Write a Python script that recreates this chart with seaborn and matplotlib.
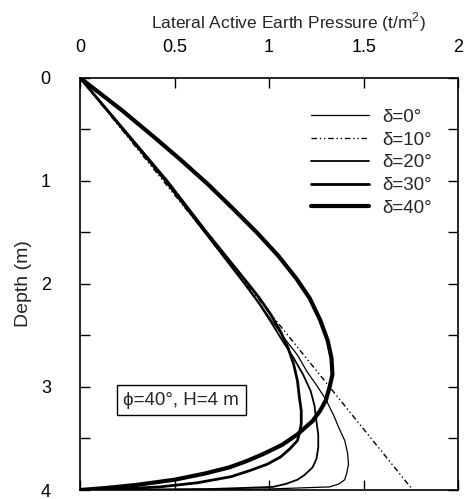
import matplotlib
matplotlib.use("Agg")
import matplotlib.pyplot as plt
import seaborn as sns
import pandas as pd

# ---- data (depth in m, pressure in t/m^2) ----
depth_d0 = [0, 0.5, 1.0, 1.5, 2.0, 2.2, 2.4, 2.55, 2.69, 2.85, 2.98, 3.12, 3.27, 3.4, 3.52,
            3.64, 3.75, 3.84, 3.90, 3.94, 3.97, 3.99, 4.0]
press_d0 = [0, 0.225, 0.45, 0.66, 0.875, 0.955, 1.03, 1.09, 1.15, 1.20, 1.25, 1.30, 1.34, 1.37, 1.40,
            1.415, 1.42, 1.41, 1.40, 1.37, 1.32, 1.0, 0]

depth_d10 = [0, 4.0]
press_d10 = [0, 1.76]

depth_d20 = [0, 0.5, 1.0, 1.5, 2.0, 2.2, 2.4, 2.55, 2.72, 2.88, 3.04, 3.18, 3.33, 3.46, 3.59,
             3.7, 3.78, 3.85, 3.90, 3.94, 3.97, 3.99, 4.0]
press_d20 = [0, 0.225, 0.45, 0.66, 0.87, 0.95, 1.02, 1.07, 1.13, 1.18, 1.22, 1.24, 1.25, 1.26, 1.26,
             1.25, 1.23, 1.19, 1.15, 1.09, 1.02, 0.7, 0]

depth_d30 = [0, 0.5, 1.0, 1.5, 2.0, 2.14, 2.3, 2.46, 2.62, 2.78, 2.94, 3.10, 3.23, 3.36, 3.45,
             3.52, 3.60, 3.68, 3.75, 3.81, 3.87, 3.93, 3.97, 3.99, 4.0]
press_d30 = [0, 0.23, 0.46, 0.67, 0.89, 0.95, 1.01, 1.06, 1.10, 1.13, 1.15, 1.16, 1.17, 1.17, 1.16,
             1.15, 1.11, 1.06, 0.99, 0.90, 0.80, 0.62, 0.42, 0.2, 0]

depth_d40 = [0, 0.32, 0.58, 0.80, 1.03, 1.28, 1.51, 1.73, 1.95, 2.14, 2.35, 2.55, 2.72, 2.88,
             3.0, 3.13, 3.23, 3.33, 3.46, 3.56, 3.65, 3.72, 3.78, 3.84, 3.90, 3.95, 3.98, 4.0]
press_d40 = [0, 0.225, 0.395, 0.535, 0.675, 0.815, 0.94, 1.05, 1.145, 1.215, 1.27, 1.31, 1.33, 1.335,
             1.32, 1.30, 1.27, 1.23, 1.15, 1.07, 0.97, 0.88, 0.79, 0.66, 0.50, 0.30, 0.14, 0]

labels = ["δ=0°", "δ=10°", "δ=20°", "δ=30°", "δ=40°"]
x_ticks = [0, 0.5, 1, 1.5, 2]
x_ticklabels = ["0", "0.5", "1", "1.5", "2"]
y_ticks = [0, 1, 2, 3, 4]
annotation = "ϕ=40°, H=4 m"

sns.set_style("white")
plt.rcParams["font.family"] = ["Liberation Sans", "DejaVu Sans"]
plt.rcParams["mathtext.fontset"] = "custom"
plt.rcParams["mathtext.rm"] = "Liberation Sans"
plt.rcParams["lines.solid_joinstyle"] = "round"

fig = plt.figure(figsize=(4.68, 4.99), dpi=100)
ax = fig.add_axes([0.171, 0.018, 0.808, 0.826])

series = [
    (depth_d0, press_d0, dict(lw=0.9, ls="-")),
    (depth_d10, press_d10, dict(lw=1.0, ls=(0, (4, 2, 1, 2, 1, 2)))),
    (depth_d20, press_d20, dict(lw=1.3, ls="-")),
    (depth_d30, press_d30, dict(lw=2.0, ls="-")),
    (depth_d40, press_d40, dict(lw=3.0, ls="-")),
]
for (d, p, st), lab in zip(series, labels):
    df = pd.DataFrame({"depth": d, "pressure": p})
    sns.lineplot(data=df, x="pressure", y="depth", orient="y", estimator=None,
                 sort=True, color="black", label=lab, ax=ax, **st)

ax.set_xlim(0, 2)
ax.set_ylim(4, 0)
ax.xaxis.tick_top()
ax.xaxis.set_label_position("top")
ax.set_xticks(x_ticks)
ax.set_xticklabels(x_ticklabels)
ax.set_yticks(y_ticks)
ax.set_yticks([0.5, 1.5, 2.5, 3.5], minor=True)
ax.tick_params(which="both", direction="in", length=7, width=1,
               top=True, bottom=True, left=True, right=True,
               labelsize=13, colors="black")
ax.tick_params(axis="x", pad=16)
ax.tick_params(axis="y", pad=21)
ax.set_xlabel("Lateral Active Earth Pressure (t/m$^2$)", fontsize=12.5)
ax.xaxis.set_label_coords(0.55, 1.12)
ax.set_ylabel("Depth (m)", fontsize=14, labelpad=6)
for s in ax.spines.values():
    s.set_visible(True)
    s.set_color("black")
    s.set_linewidth(1.2)

leg = ax.legend(loc="upper left", bbox_to_anchor=(0.612, 0.925), frameon=False,
                fontsize=13.5, handlelength=3.05, handletextpad=0.7,
                labelspacing=0.3, borderaxespad=0, borderpad=0)

ax.text(0.535, 3.13, annotation, fontsize=13.5, ha="center", va="center",
        bbox=dict(boxstyle="square,pad=0.35", fc="white", ec="black", lw=1))

fig.savefig("out.png", dpi=100)
